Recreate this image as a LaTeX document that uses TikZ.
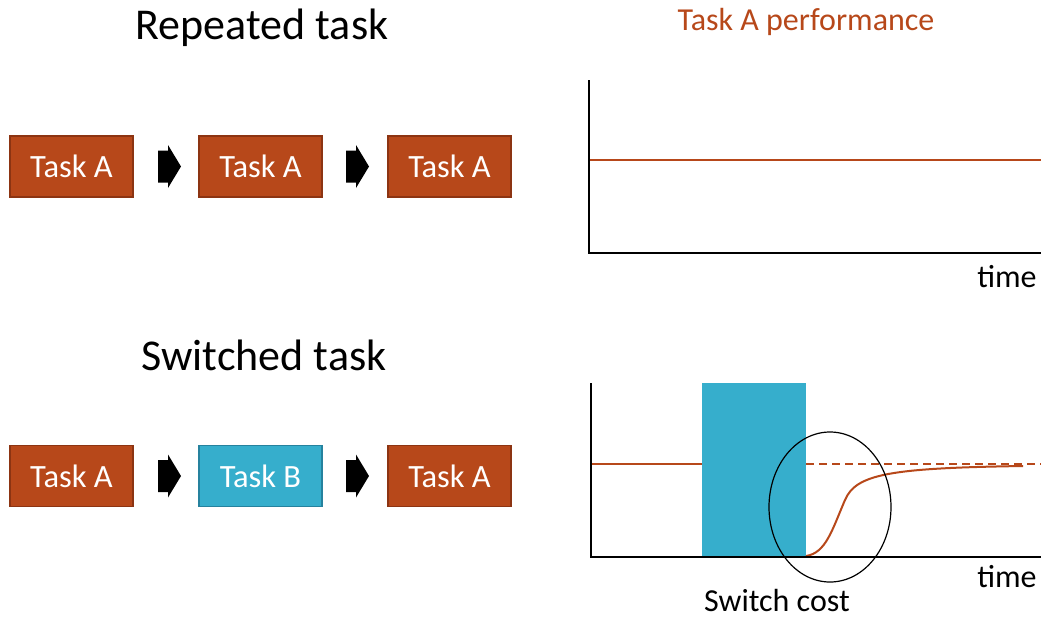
\documentclass[tikz,border=0pt]{standalone}
\usepackage{fontspec}
\setmainfont{Carlito}
\usetikzlibrary{calc}
\definecolor{rust}{RGB}{183,72,26}
\definecolor{rustdark}{RGB}{140,52,18}
\definecolor{teal}{RGB}{54,174,204}
\definecolor{tealdark}{RGB}{38,130,158}
\tikzset{
  taskA/.style={draw=rustdark, line width=1.5pt, fill=rust, text=white,
    minimum width=123pt, minimum height=61pt, inner sep=0pt, font=\fontsize{32.5}{32.5}\selectfont},
  taskB/.style={taskA, draw=tealdark, fill=teal},
  axis/.style={line width=2pt, black},
  perf/.style={line width=2pt, rust},
  title/.style={font=\fontsize{44}{44}\selectfont, inner sep=0pt},
  label/.style={font=\fontsize{32}{32}\selectfont, inner sep=0pt},
  blockarrow/.pic={\fill[black] (-11,-16) -- (-1,-16) -- (-1,-21.5) -- (12,0) -- (-1,21.5) -- (-1,16) -- (-11,16) -- cycle;}
}
\begin{document}
\begin{tikzpicture}[x=1pt,y=-1pt]
\useasboundingbox (0,0) rectangle (1041,619);

% titles
\node[title] (t1) at (262,28) {Repeated task};
\node[title] (t2) at (264,355) {Switched task};
\node[label, text=rust] (tp) at (806,22) {Task A performance};

% repeated sequence
\node[taskA] (a1) at (71.5,166.5) {Task A};
\node[taskA] (a2) at (260.5,166.5) {Task A};
\node[taskA] (a3) at (449.5,166.5) {Task A};
\path ($(a1.east)!0.5!(a2.west)$) ++(3,0) pic {blockarrow};
\path ($(a2.east)!0.5!(a3.west)$) ++(2,0) pic {blockarrow};

% switched sequence
\node[taskA] (b1) at (71.5,476) {Task A};
\node[taskB] (b2) at (260.5,476) {Task B};
\node[taskA] (b3) at (449.5,476) {Task A};
\path ($(b1.east)!0.5!(b2.west)$) ++(3,0) pic {blockarrow};
\path ($(b2.east)!0.5!(b3.west)$) ++(2,0) pic {blockarrow};

% upper chart
\draw[perf] (590,160) -- (1041,160);
\draw[axis] (589,80) -- (589,253) -- (1041,253);
\node[label] (time1) at (1007,277) {time};

% lower chart
\fill[teal] (702,383) rectangle (806,557);
\draw[perf] (591,464) -- (702,464);
\draw[perf, dashed, dash pattern=on 8pt off 5pt] (806,464) -- (1041,464);
\draw[perf] (806,556) .. controls (826,553) and (832,530) .. (845,500)
  .. controls (856,474) and (890,468) .. (1023,466);
\draw[axis] (591,383) -- (591,557) -- (1041,557);
\draw[line width=1.2pt, black] (830,507) ellipse [x radius=61, y radius=75];
\node[label] (time2) at (1007,577) {time};
\node[label] (sc) at (777,600) {Switch cost};
\end{tikzpicture}
\end{document}
